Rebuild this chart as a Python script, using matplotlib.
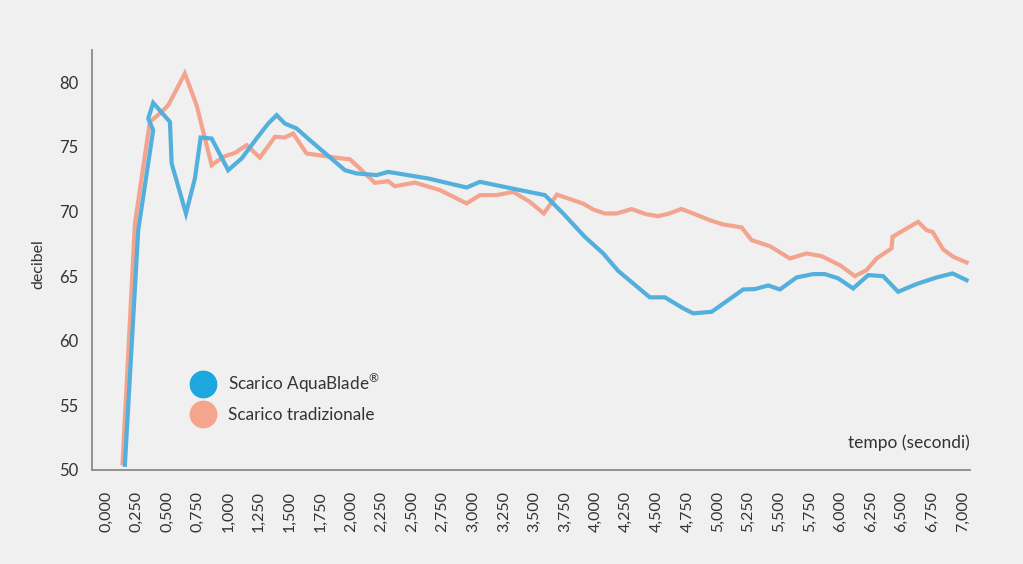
import numpy as np
import matplotlib
matplotlib.use('Agg')
import matplotlib.pyplot as plt
from matplotlib.lines import Line2D

plt.rcParams['font.family'] = ['Lato', 'DejaVu Sans']
plt.rcParams['mathtext.fontset'] = 'custom'
plt.rcParams['mathtext.rm'] = 'Lato'

# dati (tempo in secondi, livello in decibel)
t_aqua = [0.155, 0.264, 0.386, 0.346, 0.386, 0.523, 0.537, 0.654, 0.727, 0.774,
          0.864, 0.999, 1.109, 1.231, 1.326, 1.395, 1.462, 1.558, 1.667, 1.953,
          2.048, 2.212, 2.306, 2.633, 2.947, 3.056, 3.315, 3.587, 3.736, 3.913,
          4.063, 4.185, 4.444, 4.567, 4.717, 4.798, 4.949, 5.207, 5.302, 5.411,
          5.507, 5.643, 5.779, 5.874, 5.983, 6.105, 6.228, 6.350, 6.473, 6.623,
          6.787, 6.917, 7.032]
db_aqua = [50.4, 68.56, 76.30, 77.20, 78.41, 76.94, 73.72, 69.85, 72.56, 75.73,
           75.65, 73.20, 74.11, 75.65, 76.81, 77.46, 76.81, 76.43, 75.52, 73.20,
           72.95, 72.82, 73.07, 72.56, 71.86, 72.30, 71.79, 71.27, 69.85, 68.04,
           66.76, 65.41, 63.36, 63.36, 62.51, 62.12, 62.24, 63.97, 64.0, 64.28,
           63.97, 64.90, 65.16, 65.16, 64.83, 64.05, 65.08, 65.0, 63.79, 64.39,
           64.90, 65.21, 64.69]

t_trad = [0.136, 0.237, 0.359, 0.441, 0.509, 0.645, 0.741, 0.864, 0.958, 1.054,
          1.150, 1.258, 1.381, 1.462, 1.530, 1.640, 1.926, 1.993, 2.075, 2.198,
          2.306, 2.361, 2.525, 2.729, 2.947, 3.056, 3.192, 3.328, 3.464, 3.578,
          3.685, 3.900, 3.981, 4.077, 4.172, 4.295, 4.412, 4.512, 4.600, 4.702,
          4.798, 4.935, 5.043, 5.194, 5.275, 5.425, 5.588, 5.725, 5.847, 5.997,
          6.119, 6.215, 6.297, 6.419, 6.427, 6.542, 6.636, 6.705, 6.754, 6.841,
          6.923, 7.032]
db_trad = [50.52, 69.08, 76.94, 77.59, 78.23, 80.68, 78.23, 73.59, 74.23, 74.54,
           75.14, 74.18, 75.78, 75.73, 76.04, 74.49, 74.11, 74.05, 73.33, 72.22,
           72.35, 71.96, 72.24, 71.66, 70.63, 71.27, 71.27, 71.52, 70.75, 69.85,
           71.31, 70.61, 70.16, 69.85, 69.85, 70.19, 69.80, 69.64, 69.84, 70.20,
           69.85, 69.33, 69.00, 68.77, 67.79, 67.32, 66.37, 66.76, 66.55, 65.85,
           65.00, 65.47, 66.37, 67.15, 68.04, 68.69, 69.20, 68.56, 68.43, 67.07,
           66.50, 66.06]

x_ticks = np.arange(0, 7.001, 0.25)
x_labels = ['%.3f' % v for v in x_ticks]
x_labels = [s.replace('.', ',') for s in x_labels]
y_ticks = [50, 55, 60, 65, 70, 75, 80]

blue = '#53afdb'
orange = '#f3a48f'
bg = '#f0f0f0'

fig = plt.figure(figsize=(10.23, 5.64), dpi=100, facecolor=bg)
ax = fig.add_axes([0.0899, 0.1667, 0.8583, 0.7446])
ax.set_facecolor(bg)

ax.plot(t_trad, db_trad, color=orange, lw=3.0, solid_joinstyle='miter')
ax.plot(t_aqua, db_aqua, color=blue, lw=3.0, solid_joinstyle='miter')

ax.set_xlim(-0.114, 7.06)
ax.set_ylim(50, 82.5)
ax.set_xticks(x_ticks)
ax.set_xticklabels(x_labels, rotation=90, fontsize=11.5, color='#333333')
ax.set_yticks(y_ticks)
ax.set_yticklabels([str(v) for v in y_ticks], fontsize=12, color='#333333')
ax.tick_params(axis='x', length=0, pad=15)
ax.tick_params(axis='y', length=0, pad=10)

for s in ['top', 'right']:
    ax.spines[s].set_visible(False)
for s in ['left', 'bottom']:
    ax.spines[s].set_color('#8a8a8a')
    ax.spines[s].set_linewidth(1.3)

ax.set_ylabel('decibel', fontsize=11.5, color='#333333')
ax.yaxis.set_label_coords(-0.0535, 0.49)
ax.text(1.0, 0.045, 'tempo (secondi)', transform=ax.transAxes, ha='right',
        va='bottom', fontsize=12.5, color='#333333')

handles = [
    Line2D([], [], ls='none', marker='o', markersize=19, color='#1ea6df',
           label='Scarico AquaBlade$^{®}$'),
    Line2D([], [], ls='none', marker='o', markersize=19, color='#f5a58d',
           label='Scarico tradizionale'),
]
ax.legend(handles=handles, loc='upper left', bbox_to_anchor=(0.1116, 0.236),
          frameon=False, fontsize=12.3, handlelength=1.5, handletextpad=0.75,
          labelspacing=0.72, borderpad=0, borderaxespad=0, labelcolor='#333333')

fig.savefig('out.png', dpi=100, facecolor=bg)
